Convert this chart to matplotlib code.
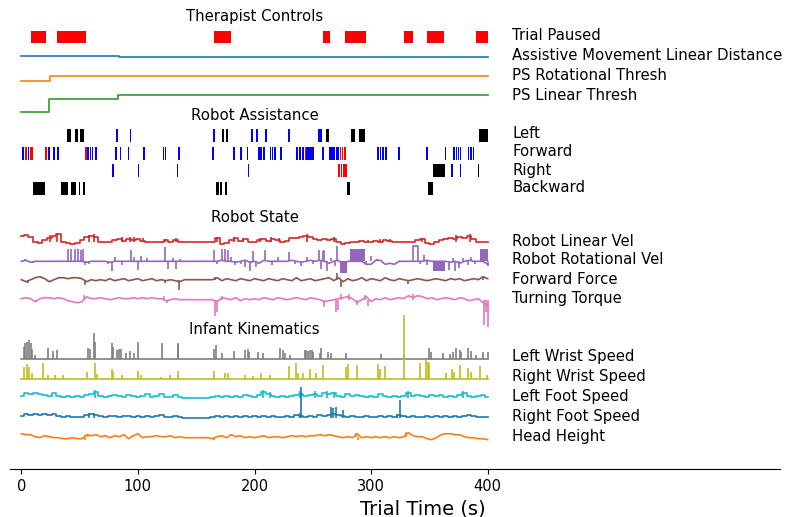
#!/usr/bin/env python3
"""
Stacked trial timeline: therapist controls, robot assistance events,
robot state and infant kinematics on one shared time axis.
"""

import matplotlib.pyplot as plt
import numpy as np

# ---------------------------------------------------------------------------
# data (trace amplitudes are in display units, 1 unit ~ 1 px of offset)
# ---------------------------------------------------------------------------
TRIAL_END = 400
SAMPLE_T = np.arange(0, TRIAL_END + 1, 4)   # slow traces sampled every 4 s

# therapist controls
pause_spans = [(8.3, 20.9), (30.9, 55.2), (165.0, 179.6), (258.7, 264.7),
               (277.9, 295.4), (328.2, 336.2), (347.7, 362.8), (389.9, 400.0)]
assist_t = [0, 84, 400]
assist_v = [1.5, 0, 0]
ps_rot_t = [0, 24.6, 400]
ps_rot_v = [-4.4, 0, 0]
ps_lin_t = [0, 23.8, 83.2, 400]
ps_lin_v = [-17.6, -4.0, 0, 0]

# robot assistance events (start, end) in seconds
left_black = [(39.5, 42.4), (46.3, 48.9), (50.3, 53.8), (171.9, 174.1),
              (175.3, 177.5), (261.3, 263.9), (282.5, 286.4), (289.4, 295.0),
              (392.3, 400.5)]
left_blue = [(81.6, 83.0), (92.8, 94.2), (164.6, 166.0), (197.4, 198.8),
             (201.7, 203.1), (209.2, 210.6), (229.1, 230.5), (254.5, 258.0)]
fwd_blue = [(1.0, 2.4), (5.5, 6.8), (23.2, 24.5), (27.2, 28.5), (30.8, 32.1),
            (56.3, 58.0), (58.5, 59.6), (60.2, 61.5), (63.5, 64.8),
            (80.4, 81.7), (84.3, 85.6), (91.2, 92.5), (104.4, 105.7),
            (121.5, 122.6), (123.0, 124.0), (134.4, 135.7), (163.8, 165.1),
            (181.8, 183.1), (187.8, 189.1), (193.2, 194.5), (203.3, 204.5),
            (205.0, 206.2), (207.6, 208.9), (213.0, 214.2), (215.0, 216.2),
            (217.0, 218.2), (222.1, 223.4), (235.8, 237.0), (238.5, 239.7),
            (241.0, 242.2), (244.0, 251.0), (258.0, 259.2), (264.0, 265.2),
            (265.8, 267.0), (267.6, 268.8), (269.6, 270.8), (271.0, 272.2),
            (305.4, 306.6), (307.6, 308.8), (309.6, 310.8), (312.0, 313.4),
            (323.3, 324.6), (347.1, 348.4), (363.3, 364.6), (370.4, 371.6),
            (372.5, 373.7), (374.5, 375.7), (376.2, 377.2), (383.0, 384.2),
            (385.0, 386.2), (387.0, 388.0)]
fwd_red = [(3.2, 5.2), (7.5, 10.3), (20.3, 22.0), (54.6, 56.1), (243.0, 244.0),
           (273.3, 274.5), (275.0, 276.3), (277.0, 278.2)]
right_blue = [(78.0, 79.3), (99.7, 101.0), (133.2, 134.5), (194.1, 195.4),
              (368.8, 370.0), (376.2, 377.4)]
right_red = [(272.0, 273.3), (274.0, 275.3), (276.0, 277.3), (278.0, 279.1)]
right_black = [(353.3, 363.4), (391.6, 392.8)]
back_black = [(9.8, 20.3), (33.8, 39.8), (42.6, 46.9), (49.2, 50.4),
              (53.2, 54.4), (166.7, 169.6), (170.8, 172.0), (174.7, 176.0),
              (279.1, 281.9), (349.1, 352.8)]

# robot state (4 s samples + short spikes (t, height))
lin_vel = [6, 7, 5, 0, -1, 2, 4, 6, 8, 0,
           -1, -2, -1, 2, 5, 6, 5, 0, 0, 0,
           2, 3, 1, 3, 2, 3, 1, 0, 0, 0,
           0, 2, 0, 2, 0, 0, 0, 0, 0, 0,
           0, 0, 4, -2, -1, 2, 4, 1, 3, 0,
           0, 2, 3, 1, 3, 2, 0, 1, 4, 4,
           5, 6, 5, 3, 2, 3, 2, 3, 0, -2,
           -1, 0, 0, 1, 0, 0, 1, 0, 2, 1,
           0, 0, 0, 0, 0, 2, 3, -1, -2, 0,
           2, 3, 4, 3, 5, 4, 6, 3, 0, 0,
           0]
lin_vel_spikes = [(25, 7), (31, 9), (58, 7), (62, 8), (86, 5), (93, 5),
                  (97, 5), (104, 4), (123, 3), (133, 4), (168, 5), (182, 5),
                  (190, 4), (205, 4), (214, 5), (221, 4), (245, 8), (268, 5),
                  (297, 2), (308, 3), (316, 3), (344, 4), (373, 7), (385, 8)]

rot_vel = [0, 1, -1, 0, 0, 0, 0, 0, 0, 0,
           0, 0, 0, 0, -1, 0, 0, 0, 0, -1,
           0, 0, 0, 0, 0, 0, 0, 0, 0, 0,
           0, 0, 0, 0, 0, 0, 0, 0, 0, 0,
           0, 0, 0, 1, 0, 0, -1, 0, 1, -1,
           0, -2, 1, 0, 0, 0, 0, 0, 1, 0,
           -1, 0, 1, 0, 1, 0, -2, 0, 1, -3,
           0, 0, 0, 0, -3, -3, 1, 1, -3, -2,
           -3, 0, 0, 0, 0, 0, 0, 1, 0, 0,
           0, 0, -1, 0, -2, 0, 1, 0, 0, 0,
           -3]
rot_vel_spikes = [(3, 2), (10, -2), (40, 12), (43, 12), (46, 12), (48.5, 12),
                  (51, 11), (53, 12), (55, -4), (58, -3), (74, -3), (78, -10),
                  (80, 4), (86, -4), (94, 11), (97, 4), (100, -9), (103, 5),
                  (108, 3), (123, 14), (126, -8), (130, 3), (133, -8), (136, 2),
                  (165, 11), (168, -3), (172, 12), (174.5, 12), (177, 11),
                  (180, 4), (183, -4), (188, -3), (192, -6), (196, -10),
                  (199, 10), (201, -6), (209, 11), (215, -4), (220, 4), (230, 9),
                  (235, -3), (240, -5), (245, 4), (250, -3), (255, 11),
                  (257, -8), (258.5, 10), (260, 11), (262, -10), (266, 3),
                  (269, -5), (271, 15), (296, -4), (300, 5), (305, 2),
                  (342, -3), (345, 6), (348, -4), (367, -9), (370, 3),
                  (372, -10), (375, -7), (379, 3), (383, -4), (386, 4),
                  (389, -3), (400, -5)]
rot_vel_blocks = [(273, 279, -12), (282, 295, 12), (353, 363, -10), (393, 400, 12)]
rot_vel_plateaus = [(336, 340, 15)]

force = [0, -2, 0, 2, 3, 1, -2, 0, 2, 2,
         1, 2, 2, 1, -2, 0, -1, 0, -1, 1,
         -1, 0, 1, -1, 0, 1, -1, 0, 1, -1,
         0, -1, 0, -1, -2, 0, 0, 0, 0, 0,
         0, 0, 2, -1, 1, 0, -1, 1, 0, -1,
         1, 0, -1, 1, 0, -1, 1, 0, -1, 2,
         -1, 0, 1, -1, 0, 1, 2, -1, 2, -2,
         1, -1, 0, 2, -1, 1, 0, -1, 2, 0,
         -1, 1, 0, -1, 0, 1, 0, -1, 0, 1,
         0, -1, 1, 0, 1, -1, 0, 1, 0, 3,
         1]
force_spikes = [(6, -3), (55, -5), (123, -3), (135, -10), (166, 3), (271, 7),
                (274, -7), (332, -4), (396, 3)]

torque = [1, 2, 1, -2, 1, 2, 2, 1, 2, 1,
          -1, -2, -3, -2, 3, 1, 1, 2, 1, 0,
          1, 2, 1, 1, 2, 1, 2, 1, 2, 1,
          1, -1, 0, 1, 0, 0, 0, 0, 0, 0,
          0, 0, -2, 2, 1, 0, 2, -1, 1, 0,
          1, 0, 2, 1, 0, 2, 1, 0, 1, 2,
          1, 0, 2, 1, 0, -2, -1, 0, 1, 2,
          3, 1, -3, 0, 3, -2, 1, 0, 2, 0,
          1, 2, 1, 4, 2, 4, 3, 1, 2, 0,
          1, 2, 1, 0, 2, 1, -1, 0, 1, -3,
          -6]
torque_spikes = [(13, -2), (54, 5), (122, 4), (125, -3), (166, -16),
                 (167.5, -12), (172, 4), (260, -7), (270, -12), (272, -10),
                 (274, 6), (281, 6), (288, -5), (295, 5), (297, -6), (336, 6),
                 (397, -25), (398.5, -12), (400, -27)]

# infant kinematics
l_wrist_spikes = [(2, 12.7), (3.5, 16), (5, 17.7), (6.5, 19.3), (8, 16),
                  (9.5, 10), (12, 4.3), (23, 11.7), (27.5, 8.7), (30.3, 9.3),
                  (57.5, 11.7), (59, 10), (62.6, 26.7), (63.5, 17.7),
                  (77.5, 16), (79, 12.7), (82, 9.3), (83.5, 10.3), (85.5, 10.3),
                  (89.7, 6), (93.2, 8.7), (97, 6), (100.3, 17.7), (121, 16),
                  (134, 14.3), (134.8, 16), (165, 10), (167, 14.3), (172, 6),
                  (182, 8.7), (192, 9.3), (194, 10.3), (195, 7.7), (203, 7),
                  (207, 6), (222, 11.7), (224.6, 9.3), (226, 6.7), (230.3, 4.3),
                  (243, 9), (244.5, 9.5), (246, 8.5), (247.5, 9), (249, 9),
                  (250, 7), (256, 6.7), (257.4, 11), (263, 7.7), (265.7, 6.7),
                  (278.6, 6), (308.9, 5.3), (328, 4.3), (350, 11.7),
                  (351.7, 7.7), (361.7, 6), (367.4, 5.3), (370, 7.7),
                  (373, 11.7), (376, 9.3), (377.4, 7.7), (383, 11), (386, 8.7),
                  (390.3, 4.3), (396, 7.7), (400, 7.7)]
r_wrist_spikes = [(2, 12.7), (4.6, 15.3), (6.6, 12.7), (9, 6), (19, 16),
                  (23, 4.3), (29, 4.3), (36, 4.3), (56, 7.7), (63, 16),
                  (64.6, 5.3), (77.5, 10), (79, 7.7), (86, 4.3), (100.3, 8.7),
                  (103, 4.3), (120, 2.7), (127.5, 4.3), (134, 8.7), (165, 8.3),
                  (174.6, 6), (177, 6), (192, 4.3), (199, 3.3), (206, 6),
                  (213, 4.3), (230, 13.3), (236, 16), (237.4, 6), (241.7, 6),
                  (248, 10), (253, 6), (259, 14.3), (278.6, 12.7), (280.6, 15),
                  (288, 14.3), (306, 15.3), (307.4, 10), (311.7, 13.3),
                  (328.3, 64), (341.7, 16), (347.4, 19.3), (349, 17.7),
                  (350, 16), (364, 6), (369, 10), (371, 7.7), (376.6, 14.3),
                  (383, 11), (386, 7.7), (393, 13.3), (399, 4.3)]
l_foot = [2, 5, 4, 5, 4, 3, 2, 5, 2, 1,
          2, 1, 2, 1, 3, 4, 6, 2, 1, 2,
          3, 2, 1, 3, 2, 1, 2, 4, 1, 2,
          4, 1, 1, 3, 1, 0, 0, 0, 0, 0,
          0, 1, 2, 1, 2, 1, 2, 1, 3, 2,
          1, 3, 6, 4, 2, 1, 2, 1, 2, 3,
          4, 2, 3, 4, 2, 5, 4, 5, 2, 1,
          4, 2, 3, 2, 1, 2, 1, 4, 2, 1,
          2, 1, 2, 5, 2, 3, 2, 1, 3, 2,
          3, 1, 2, 1, 3, 5, 2, 1, 2, 3,
          1]
l_foot_spikes = [(63, 8), (207, 8), (213, 6), (239, 7), (252, 7), (262, 7),
                 (268, 6), (332, 7), (379, 7)]
r_foot = [2, 4, 3, 4, 3, 4, 3, 4, 2, 1,
          2, 1, 1, 1, 3, 4, 3, 2, 1, 2,
          2, 1, 2, 2, 1, 2, 1, 2, 1, 2,
          3, 1, 1, 2, 1, 0, 0, 0, 0, 0,
          0, 1, 2, 1, 2, 1, 2, 1, 2, 1,
          2, 1, 2, 1, 2, 1, 1, 2, 1, 3,
          2, 1, 2, 1, 3, 2, 3, 4, 3, 2,
          1, 2, 1, 1, 2, 1, 1, 2, 1, 2,
          1, 3, 2, 1, 2, 1, 1, 2, 1, 2,
          1, 2, 1, 2, 1, 2, 3, 2, 1, 1,
          1]
r_foot_spikes = [(58, 4.3), (62, 4.3), (239, 4.3), (240, 31), (266, 11),
                 (267.4, 9.3), (270, 11), (276, 7.7), (322, 3.7), (324.8, 17.7)]
head = [3, 2, 2, 0, -1, 1, 0, -1, -1, -2,
        -2, -1, -2, -2, 2, 1, 2, 0, 1, -1,
        1, 0, 2, -2, 1, 3, -1, 0, 0, 1,
        0, 0, 1, -1, 0, -1, -1, -1, -1, -1,
        -1, -2, 0, 1, -1, 2, 0, 1, -1, 0,
        -1, 0, 1, -1, 0, 0, -1, 0, 1, 0,
        1, 0, 1, 1, 2, 1, 2, 1, 0, -1,
        0, -1, 3, -1, 0, -1, 0, -1, 0, -1,
        0, -1, 0, 4, 1, 0, 0, -2, -3, -1,
        2, 3, 3, 2, 2, 0, -1, -1, -2, -2,
        -3]
head_spikes = [(55, -3), (57, 3), (165, -3), (287, 4), (289, -3), (330, 5)]

# ---------------------------------------------------------------------------
# layout (y in pixels from the top of the figure)
# ---------------------------------------------------------------------------
LW = 1.2
TEXT_SIZE = 10.7
LABEL_T = 421
TITLE_T = 200

SECTION_TITLES = [("Therapist Controls", 17), ("Robot Assistance", 115),
                  ("Robot State", 217), ("Infant Kinematics", 330)]
LABELS = [("Trial Paused", 36), ("Assistive Movement Linear Distance", 56),
          ("PS Rotational Thresh", 76), ("PS Linear Thresh", 95),
          ("Left", 134), ("Forward", 152), ("Right", 170), ("Backward", 188),
          ("Robot Linear Vel", 241), ("Robot Rotational Vel", 260),
          ("Forward Force", 280), ("Turning Torque", 299),
          ("Left Wrist Speed", 357), ("Right Wrist Speed", 377),
          ("Left Foot Speed", 397), ("Right Foot Speed", 416),
          ("Head Height", 436)]


def draw_line(ax, t, v, row, color, style='default'):
    ax.plot(t, row - np.asarray(v, dtype=float), color=color, lw=LW,
            drawstyle=style)


def draw_spikes(ax, spikes, row, color):
    t, h = zip(*spikes)
    ax.vlines(t, row, row - np.asarray(h, dtype=float), color=color, lw=LW)


def draw_events(ax, spans, row, color, height=13):
    ax.broken_barh([(a, b - a) for a, b in spans], (row - height / 2, height),
                   facecolors=color, edgecolor='none')


def main():
    fig = plt.figure(figsize=(8.09, 5.17), dpi=100)
    ax = fig.add_axes([10 / 809, 48 / 517, 770 / 809, 469 / 517])
    ax.set_xlim(-9.7, 650.7)
    ax.set_ylim(469, 0)

    # therapist controls
    draw_events(ax, pause_spans, 37, 'red', height=12)
    draw_line(ax, assist_t, assist_v, 57.3, 'C0', 'steps-post')
    draw_line(ax, ps_rot_t, ps_rot_v, 76.3, 'C1', 'steps-post')
    draw_line(ax, ps_lin_t, ps_lin_v, 94.7, 'C2', 'steps-post')

    # robot assistance
    draw_events(ax, left_black, 135, 'black')
    draw_events(ax, left_blue, 135, 'blue')
    draw_events(ax, fwd_blue, 153.5, 'blue')
    draw_events(ax, fwd_red, 153.5, 'red')
    draw_events(ax, right_blue, 170.5, 'blue')
    draw_events(ax, right_red, 170.5, 'red')
    draw_events(ax, right_black, 170.5, 'black')
    draw_events(ax, back_black, 188.5, 'black')

    # robot state
    draw_line(ax, SAMPLE_T, lin_vel, 242, 'C3', 'steps-mid')
    draw_spikes(ax, lin_vel_spikes, 242, 'C3')

    row = 261.3
    draw_line(ax, SAMPLE_T, rot_vel, row, 'C4')
    draw_spikes(ax, rot_vel_spikes, row, 'C4')
    for t0, t1, h in rot_vel_blocks:
        ax.fill_between([t0, t1], row, row - h, color='C4', lw=0)
    for t0, t1, h in rot_vel_plateaus:
        ax.plot([t0, t0, t1, t1], [row, row - h, row - h, row], color='C4', lw=LW)

    draw_line(ax, SAMPLE_T, force, 279.7, 'C5')
    draw_spikes(ax, force_spikes, 279.7, 'C5')
    draw_line(ax, SAMPLE_T, torque, 299.7, 'C6')
    draw_spikes(ax, torque_spikes, 299.7, 'C6')

    # infant kinematics
    draw_line(ax, [0, TRIAL_END], [0, 0], 359.3, 'C7')
    draw_spikes(ax, l_wrist_spikes, 359.3, 'C7')
    draw_line(ax, [0, TRIAL_END], [0, 0], 379.3, 'C8')
    draw_spikes(ax, r_wrist_spikes, 379.3, 'C8')
    draw_line(ax, SAMPLE_T, l_foot, 398.3, 'C9', 'steps-mid')
    draw_spikes(ax, l_foot_spikes, 398.3, 'C9')
    draw_line(ax, SAMPLE_T, r_foot, 417.7, 'C0', 'steps-mid')
    draw_spikes(ax, r_foot_spikes, 417.7, 'C0')
    draw_line(ax, SAMPLE_T, head, 436.7, 'C1')
    draw_spikes(ax, head_spikes, 436.7, 'C1')

    # text
    for title, y in SECTION_TITLES:
        ax.text(TITLE_T, y, title, ha='center', va='center', fontsize=TEXT_SIZE)
    for label, y in LABELS:
        ax.text(LABEL_T, y, label, ha='left', va='center', fontsize=TEXT_SIZE)

    for side in ('left', 'right', 'top'):
        ax.spines[side].set_visible(False)
    ax.set_yticks([])
    ax.set_xticks([0, 100, 200, 300, 400])
    ax.tick_params(axis='x', labelsize=10.5)
    ax.set_xlabel('Trial Time (s)', fontsize=14, x=0.536)

    fig.savefig('out.png', dpi=100, facecolor='white')
    plt.close(fig)


if __name__ == '__main__':
    main()
